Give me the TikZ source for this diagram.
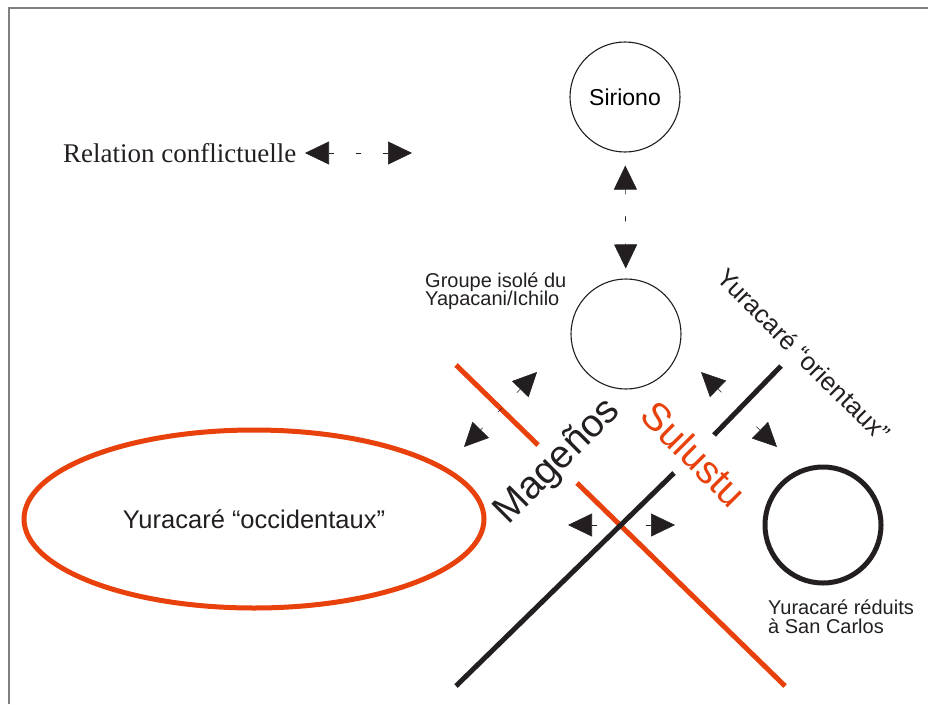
\documentclass[tikz,border=0pt]{standalone}
\usepackage{fontspec}
\setmainfont{Liberation Sans}
\newfontfamily\timesfont{Liberation Serif}
\usetikzlibrary{arrows.meta,shapes.geometric,positioning}
\definecolor{ink}{HTML}{231F20}
\definecolor{sulred}{HTML}{E8410C}
\tikzset{
  >={Triangle[length=24pt,width=23pt]},
}
\tikzstyle{conflict}=[<->,ink,line width=.6pt,dash pattern=on 5pt off 22pt]
\tikzstyle{barrier}=[line width=5pt]
\tikzstyle{group}=[circle,draw=ink,inner sep=0pt,minimum size=110pt,line width=1.1pt]
\tikzstyle{label}=[align=left,anchor=north west,inner sep=0pt,text=ink]
\newcommand{\fs}[1]{\fontsize{#1}{#1}\selectfont}

\begin{document}
\begin{tikzpicture}[x=1pt,y=-1pt]
    \useasboundingbox (0,0) rectangle (928,704);
    \draw[gray,line width=1.5pt] (9,704)--(9,8)--(928,8);
    % groups
    \node[group,font=\fs{23}] (siriono) at (625,97) {Siriono};
    \node[group] (isole) at (626,334) {};
    \node[label,font=\fs{20}] at (425,273) {Groupe isolé du\\[-2pt]Yapacani/Ichilo};
    \node[ellipse,draw=sulred,line width=5pt,minimum width=460pt,minimum height=178pt,
      text=ink,font=\fs{25.5}] (occ) at (254,519) {Yuracaré “occidentaux”};
    \node[circle,draw=ink,line width=5pt,minimum size=116pt] (carlos) at (823,525) {};
    \node[label,font=\fs{20}] at (768,600) {Yuracaré réduits\\[-1pt]à San Carlos};
    % barrieres
    \draw[barrier,sulred] (456,365)--(538,445);
    \draw[barrier,sulred] (577,483)--(785,686);
    \draw[barrier,ink] (781,366)--(714,435);
    \draw[barrier,ink] (674,473)--(456,686);
    \node[rotate=45,text=ink,font=\fs{39}] (mag) at (558,462) {Mageños};
    \node[rotate=-45,text=sulred,font=\fs{39}] (sul) at (694,454) {Sulustu};
    \node[rotate=-45,text=ink,font=\fs{25.5}] (ori) at (804,355) {Yuracaré “orientaux”};
    % relations
    \node[anchor=base west,inner sep=0pt,text=ink,font=\timesfont\fs{27}] (legend) at (63,162) {Relation conflictuelle};
    \coordinate (ll) at (305,153);
    \coordinate (lr) at (412,153);
    \coordinate (mw1) at (537,372);
    \coordinate (mw2) at (464,447);
    \coordinate (so1) at (701,372);
    \coordinate (so2) at (777,447);
    \coordinate (xl) at (568,525);
    \coordinate (xr) at (675,525);
    \draw[conflict] (ll)--(lr);
    \draw[conflict,shorten <=13pt,shorten >=10pt] (siriono)--(isole);
    \draw[conflict] (mw1)--(mw2);
    \draw[conflict] (so1)--(so2);
    \draw[conflict] (xl)--(xr);
\end{tikzpicture}
\end{document}
